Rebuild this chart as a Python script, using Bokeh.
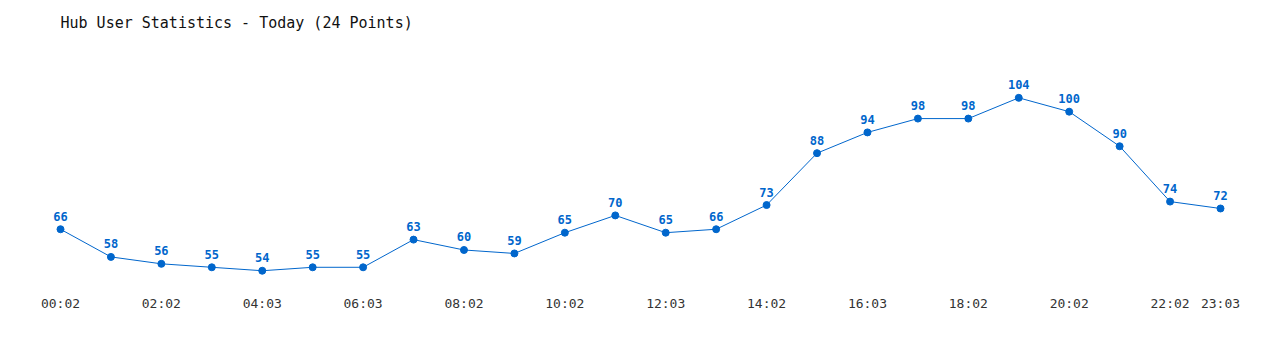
from bokeh.plotting import figure
from bokeh.models import ColumnDataSource, Range1d, FixedTicker
from bokeh.embed import file_html
from bokeh.resources import INLINE

times = ["00:02", "01:02", "02:02", "03:02", "04:03", "05:03", "06:03", "07:02",
         "08:02", "09:02", "10:02", "11:02", "12:03", "13:02", "14:02", "15:02",
         "16:03", "17:02", "18:02", "19:02", "20:02", "21:02", "22:02", "23:03"]
users = [66, 58, 56, 55, 54, 55, 55, 63, 60, 59, 65, 70, 65, 66, 73, 88,
         94, 98, 98, 104, 100, 90, 74, 72]
shown_ticks = ["00:02", "02:02", "04:03", "06:03", "08:02", "10:02", "12:03",
               "14:02", "16:03", "18:02", "20:02", "22:02", "23:03"]

idx = list(range(len(users)))
src = ColumnDataSource(dict(x=idx, y=users, lbl=[str(v) for v in users]))

BLUE = "#0066cc"
MONO = "DejaVu Sans Mono"

p = figure(width=1280, height=350, output_backend="svg", toolbar_location=None,
           min_border_left=0, min_border_right=0, min_border_top=40,
           min_border_bottom=60)
step = 1160 / 23
p.x_range = Range1d(-60 / step, (1280 - 60) / step)
p.y_range = Range1d((459 - 290) / 3.5, (459 - 40) / 3.5)

p.title.text = "Hub User Statistics - Today (24 Points)"
p.title.text_font = MONO
p.title.text_font_size = "15px"
p.title.text_font_style = "normal"
p.title.text_color = "#111111"
p.title.offset = 60
p.title.standoff = 23

p.line("x", "y", source=src, line_color=BLUE, line_width=1)
p.scatter("x", "y", source=src, size=7, fill_color=BLUE, line_color=BLUE)
p.text("x", "y", text="lbl", source=src, text_align="center",
       text_baseline="middle", y_offset=-13, text_font_size="12px",
       text_font_style="bold", text_color=BLUE, text_font={"value": MONO})

p.yaxis.visible = False
p.xgrid.visible = False
p.ygrid.visible = False
p.outline_line_color = None

ticks = [times.index(t) for t in shown_ticks]
p.xaxis.ticker = FixedTicker(ticks=ticks)
p.xaxis.major_label_overrides = {i: times[i] for i in ticks}
p.xaxis.axis_line_color = None
p.xaxis.major_tick_line_color = None
p.xaxis.minor_tick_line_color = None
p.xaxis.major_tick_out = 0
p.xaxis.major_tick_in = 0
p.xaxis.major_label_standoff = 5
p.xaxis.major_label_text_font = MONO
p.xaxis.major_label_text_font_size = "13px"
p.xaxis.major_label_text_color = "#333333"

open("out.html", "w").write(file_html(p, INLINE))
